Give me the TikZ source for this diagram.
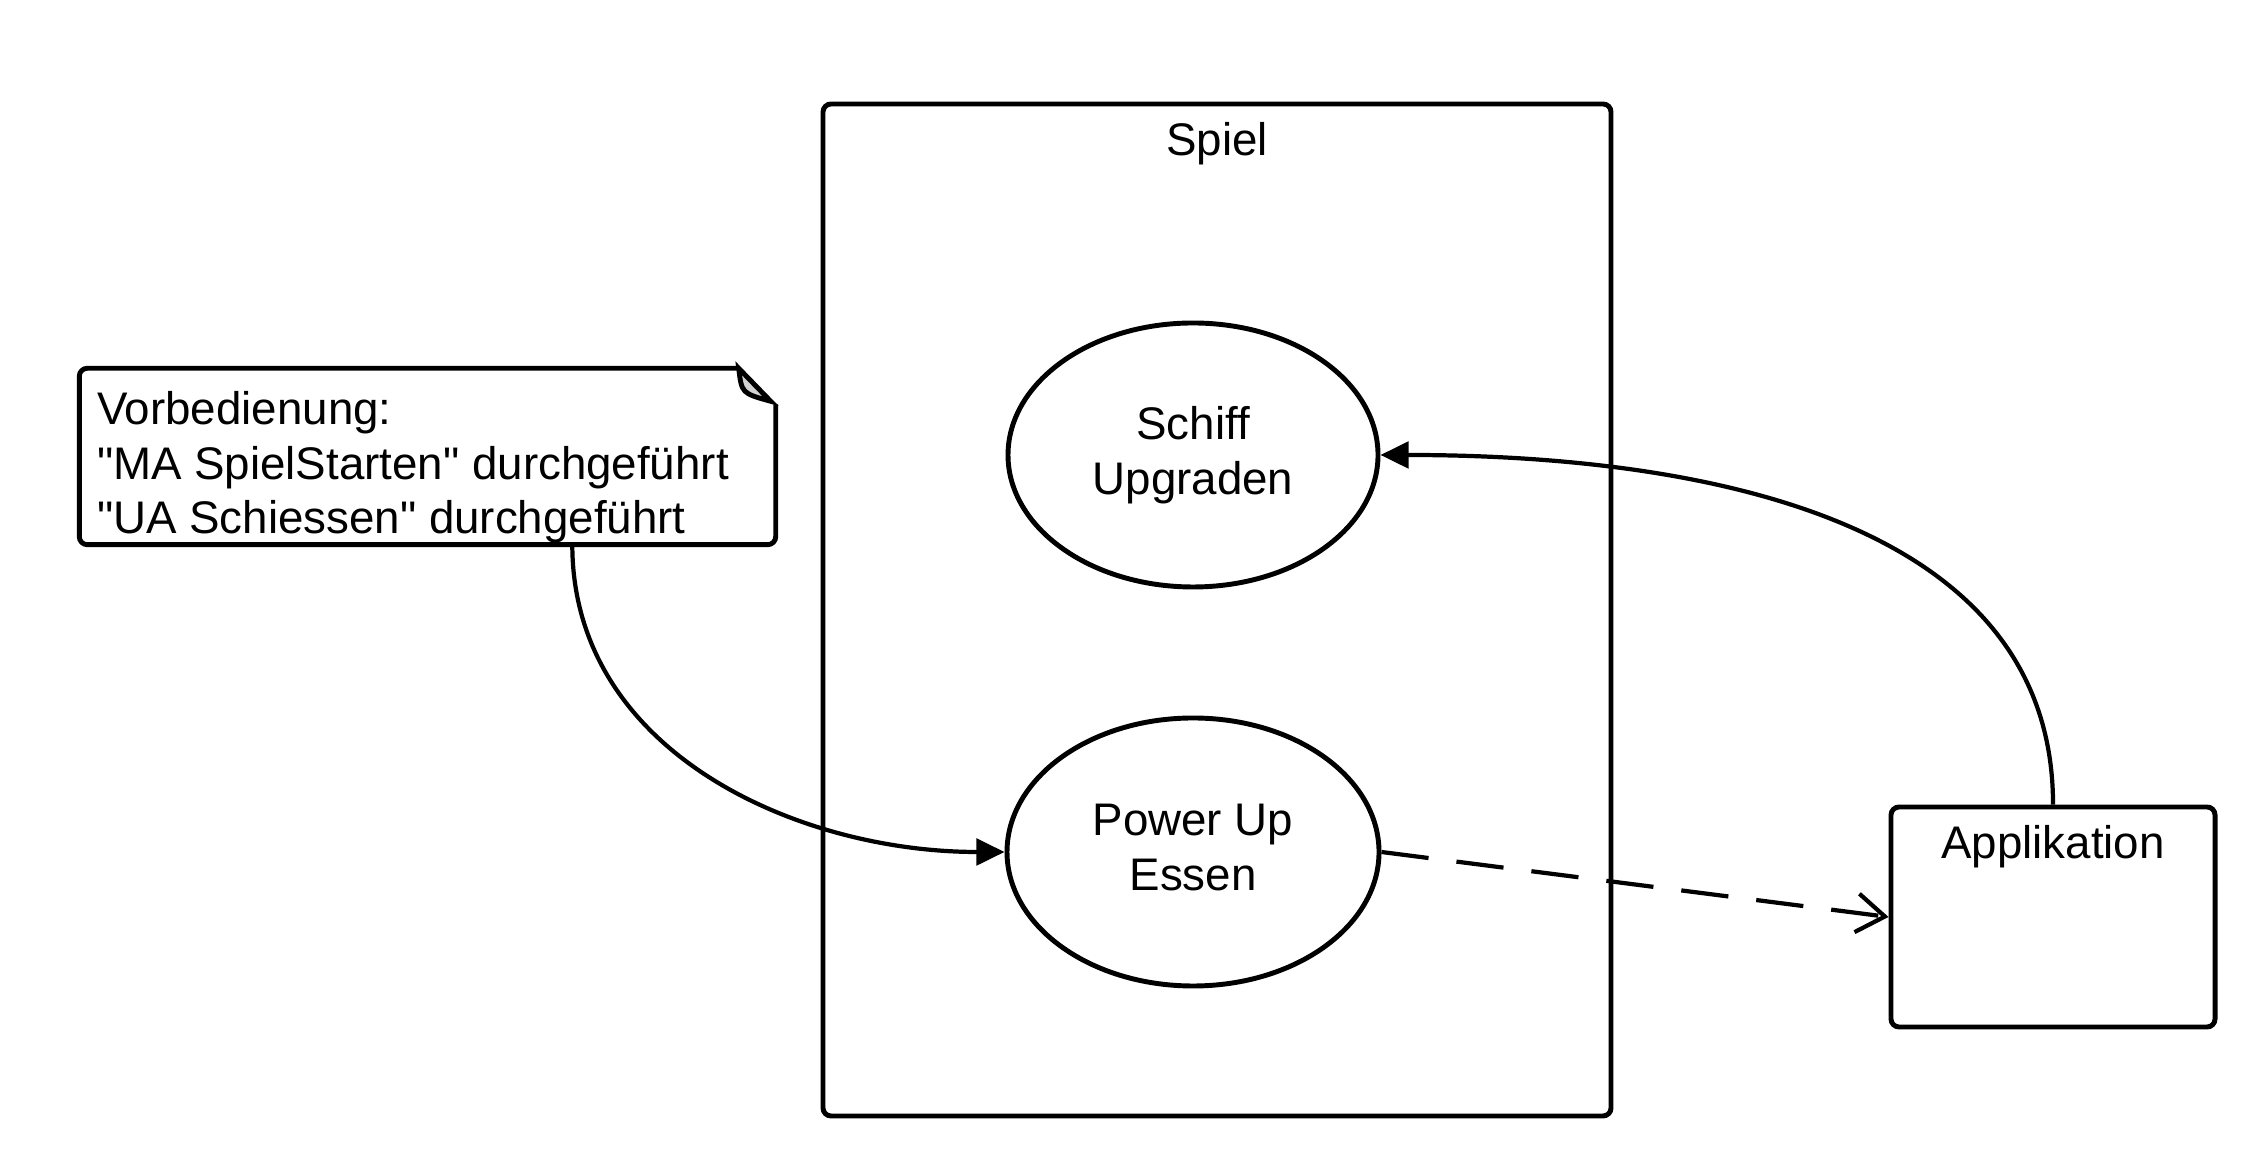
\documentclass[tikz,border=0pt]{standalone}
\usepackage{fontspec}
\setmainfont{Liberation Sans}
\usepackage{tikz}
\usetikzlibrary{arrows.meta,shapes.geometric,positioning}

\begin{document}
\begin{tikzpicture}[every node/.style={font=\fontsize{13}{15.5}\selectfont},
  box/.style={draw, line width=1.4pt, rounded corners=0.08cm},
  usecase/.style={draw, ellipse, line width=1.4pt, align=center},
  link/.style={line width=1.2pt, -{Triangle[length=8pt,width=7.5pt]}},
  depend/.style={line width=1.2pt, dash pattern=on 13.5pt off 8pt,
    -{Straight Barb[length=8pt,width=11pt,line width=1.2pt]}}]
  \useasboundingbox (0,0) rectangle (22.67,11.70);

  % system boundary
  \node[box, minimum width=7.88cm, minimum height=10.12cm] (spiel) at (12.17,5.60) {};
  \node (spiellbl) at ([yshift=-0.42cm]spiel.north) {Spiel};

  % use cases
  \node[usecase, minimum width=3.70cm, minimum height=2.64cm] (schiff) at (11.93,7.15) {Schiff\\Upgraden};
  \node[usecase, minimum width=3.72cm, minimum height=2.68cm] (power) at (11.93,3.18) {Power Up\\Essen\vphantom{g}};

  % actor box
  \node[box, minimum width=3.24cm, minimum height=2.20cm] (app) at (20.53,2.53) {};
  \node (applbl) at ([yshift=-0.42cm]app.north) {Applikation};

  % note with folded corner
  \node[minimum width=6.95cm, minimum height=1.75cm, inner sep=0] (note) at (4.275,7.135) {};
  \node[align=left, anchor=west, inner sep=0] (notetext) at ([xshift=0.17cm,yshift=-0.11cm]note.west)
    {Vorbedienung:\\\textquotedbl MA SpielStarten\textquotedbl{} durchgeführt\\\textquotedbl UA Schiessen\textquotedbl{} durchgeführt};
  \draw[line width=1.4pt, rounded corners=0.08cm]
    ([xshift=-0.36cm]note.north east) -- (note.north west) -- (note.south west)
    -- (note.south east) -- ([yshift=-0.36cm]note.north east);
  \draw[line width=1.4pt, fill=gray!35]
    ([xshift=-0.37cm]note.north east) .. controls ([xshift=-0.34cm,yshift=-0.25cm]note.north east)
    .. ([xshift=-0.05cm,yshift=-0.33cm]note.north east) -- cycle;
  \coordinate (notefoot) at ([xshift=4.93cm]note.south west);

  % connectors
  \draw[link] (notefoot) to[out=-90,in=180] (power.west);
  \draw[link] (app.north) to[out=90,in=0] (schiff.east);
  \draw[depend] (power.east) -- (app.west);
\end{tikzpicture}
\end{document}
